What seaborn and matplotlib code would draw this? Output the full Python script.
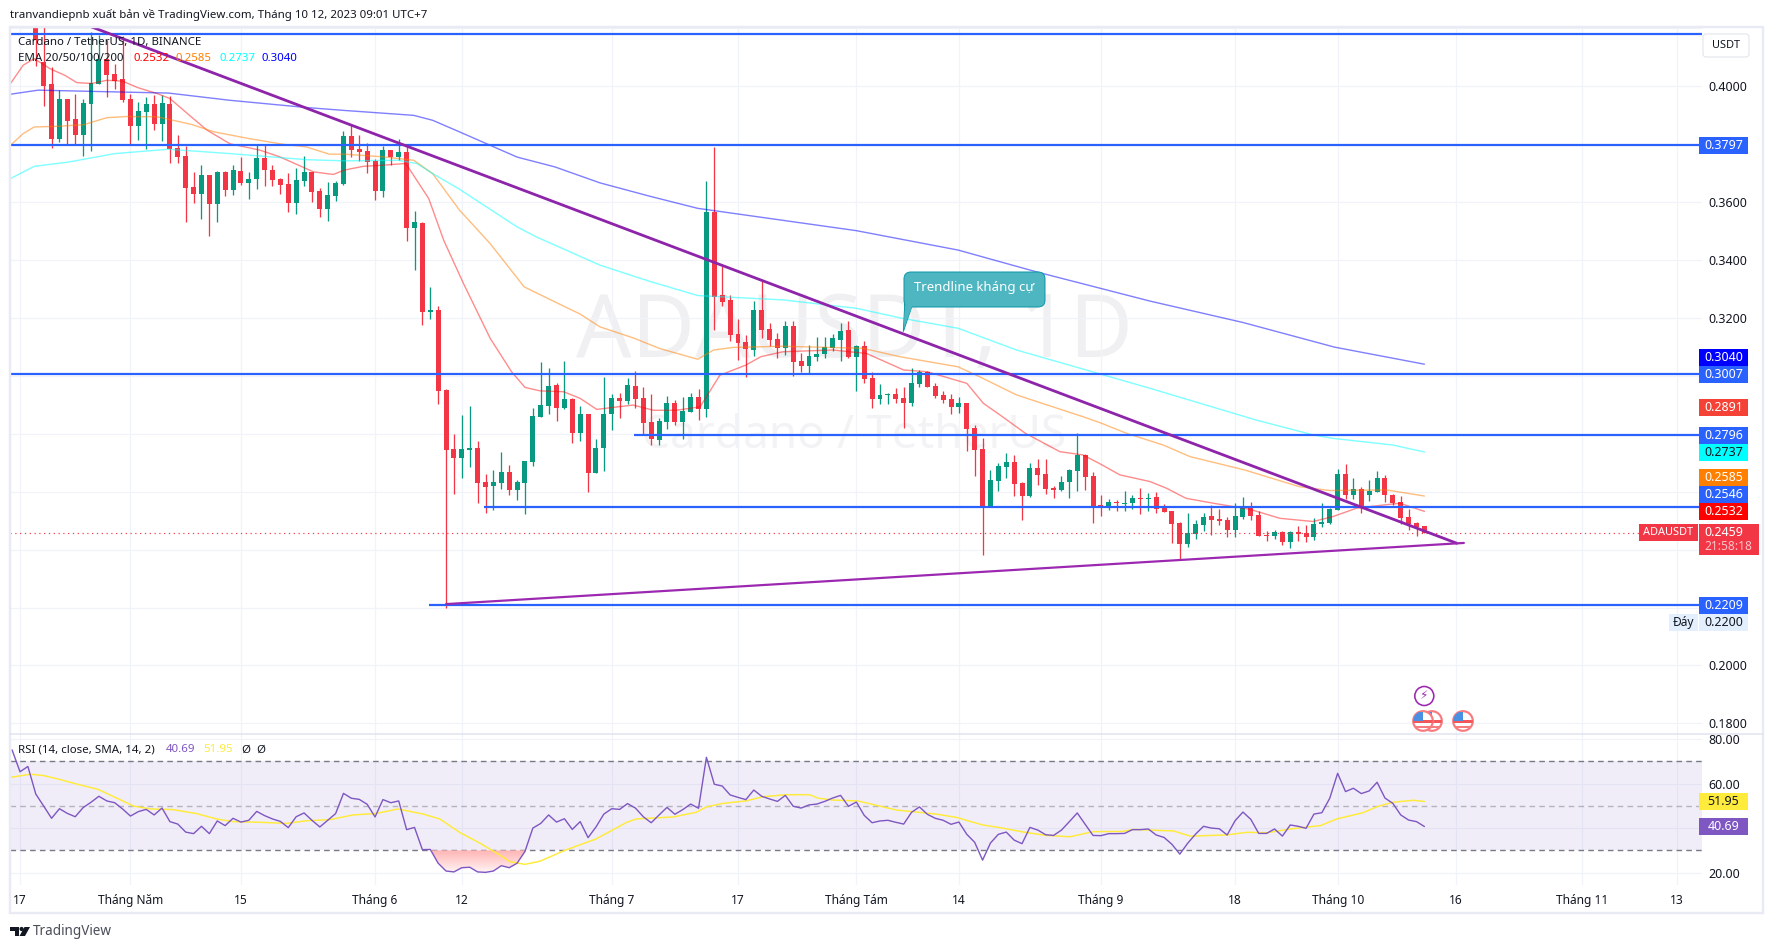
import matplotlib
matplotlib.use('Agg')
import matplotlib.pyplot as plt
from matplotlib.patches import Rectangle, Circle, Polygon, FancyBboxPatch
import numpy as np
import seaborn as sns

# days counted from 17 April, one candle per day
candle_days = np.arange(2, 179)

open_p = [
    .4400, .4083, .4006, .3816, .3954, .3885, .3830, .3937, .4006, .4095,
    .4041, .4023, .3954, .3861, .3910, .3937, .3868, .3937, .3785, .3758,
    .3651, .3627, .3692, .3592, .3703, .3640, .3706, .3665, .3678, .3751,
    .3710, .3678, .3661, .3596, .3672, .3703, .3637, .3575, .3620, .3661,
    .3827, .3782, .3775, .3741, .3637, .3779, .3754, .3772, .3509, .3527,
    .3220, .3227, .2951, .2747, .2716, .2743, .2750, .2633, .2619, .2630,
    .2668, .2606, .2630, .2702, .2857, .2895, .2968, .2888, .2919, .2802,
    .2868, .2664, .2750, .2868, .2923, .2913, .2964, .2923, .2840, .2778,
    .2840, .2906, .2840, .2875, .2926, .2887, .3565, .3279, .3262, .3145,
    .3117, .3089, .3227, .3162, .3127, .3096, .3172, .3051, .3034, .3065,
    .3075, .3096, .3124, .3158, .3065, .3103, .2993, .2920, .2934, .2937,
    .2924, .2906, .2972, .3013, .2965, .2934, .2920, .2892, .2906, .2820,
    .2747, .2551, .2637, .2685, .2702, .2630, .2585, .2682, .2661, .2613,
    .2606, .2634, .2672, .2727, .2654, .2554, .2547, .2564, .2557, .2561,
    .2578, .2575, .2582, .2544, .2534, .2492, .2420, .2454, .2485, .2516,
    .2506, .2502, .2468, .2513, .2547, .2520, .2451, .2447, .2461, .2426,
    .2461, .2458, .2444, .2489, .2492, .2537, .2661, .2589, .2609, .2589,
    .2599, .2647, .2589, .2564, .2513, .2492, .2482]
close_p = [
    .4160, .3999, .3816, .3954, .3879, .3830, .3941, .4010, .4095, .4037,
    .4017, .3951, .3861, .3913, .3937, .3868, .3941, .3782, .3754, .3647,
    .3627, .3692, .3592, .3703, .3640, .3710, .3665, .3678, .3751, .3710,
    .3675, .3658, .3596, .3675, .3703, .3634, .3575, .3623, .3665, .3827,
    .3779, .3772, .3737, .3637, .3779, .3754, .3772, .3509, .3530, .3220,
    .3227, .2948, .2743, .2716, .2747, .2750, .2630, .2616, .2633, .2668,
    .2606, .2633, .2706, .2861, .2899, .2964, .2888, .2919, .2802, .2868,
    .2664, .2750, .2868, .2923, .2913, .2968, .2919, .2837, .2781, .2844,
    .2906, .2840, .2878, .2926, .2885, .3565, .3272, .3255, .3141, .3114,
    .3093, .3227, .3158, .3124, .3096, .3172, .3048, .3034, .3068, .3075,
    .3099, .3130, .3155, .3065, .3103, .2989, .2920, .2934, .2937, .2920,
    .2906, .2975, .3013, .2961, .2930, .2917, .2892, .2906, .2816, .2744,
    .2551, .2640, .2689, .2702, .2626, .2585, .2682, .2658, .2609, .2606,
    .2634, .2675, .2727, .2651, .2551, .2547, .2564, .2561, .2561, .2578,
    .2575, .2578, .2540, .2530, .2489, .2420, .2458, .2489, .2513, .2502,
    .2499, .2468, .2516, .2547, .2516, .2447, .2447, .2461, .2426, .2461,
    .2454, .2444, .2489, .2496, .2540, .2661, .2589, .2609, .2547, .2602,
    .2647, .2589, .2561, .2509, .2489, .2478, .2459]
high_p = [
    .4500, .4500, .4066, .3986, .3954, .3972, .3954, .4187, .4175, .4158,
    .4075, .4172, .3974, .3944, .3961, .3968, .3968, .3965, .3830, .3792,
    .3703, .3727, .3692, .3706, .3706, .3727, .3754, .3703, .3799, .3799,
    .3727, .3682, .3699, .3716, .3758, .3703, .3647, .3668, .3672, .3844,
    .3865, .3830, .3803, .3747, .3792, .3779, .3816, .3796, .3568, .3530,
    .3306, .3240, .2954, .2799, .2864, .2895, .2775, .2661, .2674, .2737,
    .2692, .2640, .2706, .2888, .3047, .3026, .2975, .3051, .2923, .2895,
    .2868, .2781, .2995, .2937, .2940, .2992, .3016, .2961, .2937, .2854,
    .2930, .2916, .2926, .2940, .2954, .3672, .3789, .3379, .3279, .3196,
    .3141, .3258, .3331, .3182, .3148, .3189, .3189, .3079, .3106, .3134,
    .3134, .3144, .3182, .3189, .3106, .3120, .3013, .2972, .2941, .2958,
    .2961, .3027, .3020, .3017, .2975, .2948, .2937, .2927, .2906, .2830,
    .2785, .2675, .2699, .2734, .2727, .2633, .2699, .2713, .2713, .2620,
    .2654, .2678, .2803, .2730, .2668, .2589, .2575, .2571, .2602, .2589,
    .2613, .2595, .2599, .2558, .2534, .2496, .2527, .2502, .2527, .2554,
    .2540, .2513, .2561, .2582, .2564, .2534, .2464, .2468, .2464, .2464,
    .2482, .2485, .2509, .2561, .2544, .2678, .2696, .2647, .2616, .2640,
    .2671, .2658, .2592, .2585, .2540, .2496, .2482]
low_p = [
    .4069, .3930, .3787, .3807, .3796, .3796, .3759, .3776, .4006, .3961,
    .3989, .3944, .3799, .3813, .3784, .3848, .3810, .3734, .3734, .3530,
    .3596, .3540, .3482, .3530, .3620, .3623, .3658, .3609, .3644, .3654,
    .3654, .3627, .3565, .3558, .3654, .3599, .3547, .3534, .3603, .3658,
    .3754, .3741, .3699, .3606, .3616, .3727, .3744, .3465, .3364, .3175,
    .3195, .2902, .2200, .2592, .2647, .2685, .2561, .2526, .2536, .2609,
    .2588, .2571, .2523, .2688, .2857, .2868, .2844, .2885, .2768, .2775,
    .2599, .2664, .2671, .2812, .2854, .2902, .2888, .2795, .2761, .2761,
    .2816, .2830, .2781, .2875, .2847, .2859, .3158, .3241, .3120, .3055,
    .2996, .3068, .3130, .3103, .3061, .3072, .3000, .3013, .3006, .3051,
    .3061, .3086, .3051, .3061, .2948, .2975, .2889, .2903, .2903, .2906,
    .2820, .2896, .2961, .2961, .2923, .2906, .2868, .2872, .2740, .2654,
    .2382, .2551, .2602, .2647, .2585, .2502, .2582, .2623, .2592, .2578,
    .2602, .2578, .2602, .2606, .2492, .2516, .2537, .2533, .2533, .2540,
    .2523, .2533, .2526, .2530, .2423, .2368, .2409, .2437, .2464, .2451,
    .2485, .2444, .2444, .2506, .2502, .2447, .2430, .2437, .2416, .2406,
    .2430, .2427, .2433, .2478, .2489, .2537, .2575, .2575, .2527, .2568,
    .2599, .2565, .2554, .2489, .2468, .2447, .2458]

ema20_days = [-1.2, .4, 1.8, 3.8, 5.7, 7.2, 9.1, 11, 13, 14.9, 17.4, 19, 21.7, 23.7, 26.6, 30.4, 32.9, 34.8,
              37.2, 39.7, 41.1, 43.5, 46, 48.9, 51.8, 53.7, 56.2, 59.6, 62.3, 64, 65.9, 68.9, 71, 73.1, 75.2,
              77.7, 80.3, 83.2, 86.2, 88.7, 92, 93.9, 96.7, 103, 107.3, 112, 115, 120, 122.1, 124.2, 127.4,
              131.8, 134.7, 136.9, 139.4, 143.2, 145.3, 147.8, 151.7, 155.9, 159.7, 163.9, 166.4, 169.4,
              172.8, 174.9, 178]
ema20 = [.4009, .4072, .4095, .4060, .4037, .4012, .4009, .4020, .4017, .3995, .3974, .3957, .3894, .3848,
         .3801, .3779, .3756, .3733, .3704, .3695, .3710, .3723, .3727, .3733, .3612, .3468, .3319, .3129,
         .3014, .2960, .2948, .2945, .2922, .2884, .2891, .2899, .2881, .2881, .2893, .3002, .3037, .3066,
         .3083, .3089, .3077, .3020, .3014, .2974, .2905, .2865, .2802, .2738, .2727, .2696, .2658, .2635,
         .2612, .2577, .2558, .2539, .2508, .2497, .2514, .2543, .2554, .2560, .2532]
ema50_days = [-1.2, .4, 1.8, 4.7, 8.1, 11, 13.5, 17.4, 21.7, 24.6, 29, 33.4, 36.3, 39.2, 41.1, 46, 49.9, 52.3,
              55.7, 59.6, 63.9, 67.8, 71, 73.5, 77.7, 81.1, 85.9, 87.9, 90.4, 96.7, 106.8, 111.5, 118.9, 121.6,
              126.3, 134.7, 136.9, 140.3, 144.9, 148.3, 155.2, 162.2, 166, 173.2, 178]
ema50 = [.3796, .3836, .3859, .3861, .3867, .3891, .3895, .3894, .3868, .3842, .3819, .3799, .3790, .3765,
         .3765, .3756, .3744, .3698, .3572, .3456, .3307, .3255, .3213, .3169, .3131, .3094, .3057, .3089,
         .3098, .3102, .3095, .3066, .3031, .2997, .2934, .2859, .2838, .2801, .2761, .2721, .2675, .2617,
         .2604, .2606, .2585]
ema100_days = [-1.2, 1.8, 6.2, 12, 18.8, 26.6, 36.3, 41.1, 47.9, 50.3, 52.3, 55.7, 63, 65.4, 73.5, 79.8, 85.9,
               96.7, 106, 111.9, 118.9, 126.3, 143.2, 156.7, 163.9, 166.4, 174, 178]
ema100 = [.3681, .3723, .3738, .3767, .3782, .3767, .3746, .3742, .3744, .3733, .3698, .3644, .3514, .3480,
          .3382, .3326, .3277, .3262, .3233, .3198, .3164, .3089, .2957, .2847, .2796, .2784, .2761, .2737]
ema200_days = [-1.2, 2.3, 12, 18.8, 26.6, 36.3, 41.1, 49.9, 52.3, 55.7, 63, 67.8, 73.5, 79.8, 85.9, 106, 118.9,
               128.8, 143.2, 155, 166.6, 178]
ema200 = [.3972, .3986, .3980, .3976, .3951, .3926, .3916, .3899, .3882, .3842, .3755, .3721, .3666, .3620,
          .3578, .3501, .3434, .3359, .3258, .3184, .3099, .3040]

rsi_days = np.arange(-1, 179)
rsi = [75.1, 65.3, 67.7, 55.3, 49.9, 44.4, 48.7, 46.6, 45.1, 49.2, 51.6, 54.3, 52.2, 51.4, 48.6, 45.4, 47.4, 48.4,
       45.9, 49.0, 42.9, 41.8, 38.2, 37.5, 40.8, 37.5, 43.2, 41.1, 44.4, 42.7, 43.5, 47.5, 45.6, 44.1, 43.0, 40.2,
       45.1, 46.8, 43.5, 40.5, 43.5, 46.5, 55.6, 53.4, 52.9, 50.7, 45.0, 52.8, 51.4, 52.2, 39.3, 40.3, 30.3, 30.4,
       24.2, 20.7, 20.3, 22.2, 22.4, 20.3, 20.1, 20.7, 23.1, 22.2, 24.2, 29.5, 40.0, 42.1, 45.9, 42.7, 44.2, 39.4,
       42.9, 35.7, 40.5, 46.3, 48.7, 48.4, 51.0, 49.0, 45.1, 42.4, 45.9, 49.3, 46.2, 48.3, 50.8, 48.9, 71.8, 59.7,
       58.9, 54.9, 53.8, 52.8, 57.1, 54.3, 53.1, 52.0, 54.7, 49.8, 49.0, 50.4, 50.8, 52.0, 53.5, 54.7, 49.8, 51.7,
       45.7, 42.4, 43.2, 43.5, 42.6, 41.8, 47.1, 49.5, 46.2, 44.4, 43.5, 41.7, 42.7, 37.2, 33.6, 25.6, 33.3, 37.2,
       38.2, 34.6, 33.0, 40.3, 39.1, 37.0, 36.7, 39.1, 42.9, 46.8, 41.7, 36.7, 36.6, 37.5, 37.5, 37.6, 39.3, 39.3,
       39.6, 36.9, 35.8, 32.7, 28.3, 33.2, 37.3, 40.8, 40.0, 39.7, 36.9, 43.3, 47.2, 43.9, 37.6, 37.6, 39.6, 36.4,
       41.4, 40.8, 39.9, 46.3, 46.9, 53.4, 64.6, 56.4, 57.9, 55.5, 56.7, 60.6, 53.5, 51.1, 45.9, 43.6, 42.9, 40.69]
rsi_ma_days = [-1.2, 1.3, 3, 5, 7.6, 9.9, 12.3, 14.4, 16.5, 19.4, 22.4, 24.9, 27, 30.4, 33.8, 36.3, 39.3, 42.2,
               45.2, 47.9, 51.1, 53.2, 55.8, 58.3, 60.8, 62.1, 64, 65.9, 69.2, 73, 76.9, 78.1, 82.8, 85.7, 87,
               89.1, 92, 94.2, 97.1, 100.1, 101.1, 103, 106.2, 111.1, 116.1, 118.7, 122, 124.2, 127.2, 130.1,
               133.1, 136, 139.8, 141.1, 146.2, 148.3, 152.9, 155.5, 158, 161, 164.8, 166.9, 170.2, 172, 174,
               176.6, 178]
rsi_ma = [62.8, 64.2, 63.6, 61.9, 59.4, 57.4, 53.4, 49.9, 48.6, 48.3, 46.5, 44.1, 42.9, 42.6, 42.1, 43.3, 43.8,
          45.9, 46.6, 48.6, 46.3, 44.1, 37.9, 33.2, 27.9, 24.9, 23.7, 25.1, 30.2, 35.1, 42.6, 44.1, 45.0, 47.1,
          49.5, 51.1, 52.2, 54.1, 55.0, 55.0, 53.5, 52.6, 52.2, 48.1, 46.3, 44.8, 41.4, 40.2, 38.2, 36.7, 36.1,
          38.4, 38.5, 39.4, 38.7, 36.4, 36.9, 38.1, 37.9, 39.6, 41.1, 44.1, 46.9, 49.6, 51.6, 52.5, 51.95]

level_prices = [.4181, .3797, .3007, .2796, .2546, .2209]
level_starts = [-1.3, -1.3, -1.3, 77.8, 58.8, 51.9]
last_price = .2459
resistance_days = [9.1, 182.1]
resistance_prices = [.4204, .2422]
support_days = [54, 183]
support_prices = [.2212, .2423]

x_tick_days = [0, 14, 28, 45, 56, 75, 91, 106, 119, 137, 154, 167, 182, 198, 210]
x_tick_labels = ['17', 'Tháng Năm', '15', 'Tháng 6', '12', 'Tháng 7', '17', 'Tháng Tám', '14', 'Tháng 9', '18',
                 'Tháng 10', '16', 'Tháng 11', '13']
price_ticks = [.18, .20, .22, .24, .26, .28, .30, .32, .34, .36, .38, .40, .42]
price_tick_labels = ['0.1800', '0.2000', '', '', '', '', '', '0.3200', '0.3400', '0.3600', '', '0.4000', '']
rsi_ticks = [20, 40, 60, 80]
rsi_tick_labels = ['20.00', '', '60.00', '80.00']

UP = '#089981'
DOWN = '#f23645'
BLUE = '#2962ff'
PURPLE = '#8e24aa'
GRID = '#f0f3fa'
TEXT = '#131722'


def px(n):
    return n * 72 / 100


sns.set_style('white')
plt.rcParams['font.family'] = ['Noto Sans', 'DejaVu Sans']

W, H = 1773, 949
fig = plt.figure(figsize=(W / 100, H / 100), dpi=100, facecolor='white')
ax = fig.add_axes([10 / W, 1 - 733 / H, 1692 / W, 706 / H])
ax_rsi = fig.add_axes([10 / W, 1 - 885 / H, 1692 / W, 152 / H], sharex=ax)

ov = fig.add_axes([0, 0, 1, 1], zorder=10)
ov.set_xlim(0, W)
ov.set_ylim(H, 0)
ov.axis('off')
ov.patch.set_alpha(0)

# candles
up = np.array(close_p) >= np.array(open_p)
colors = np.where(up, UP, DOWN)
ax.vlines(candle_days, low_p, high_p, colors=colors, lw=px(1.3), zorder=3)
ax.bar(candle_days, np.abs(np.array(close_p) - np.array(open_p)), bottom=np.minimum(open_p, close_p),
       width=0.63, color=colors, linewidth=0, zorder=3)

# moving averages
sns.lineplot(x=ema20_days, y=ema20, ax=ax, color='#ff0000', lw=px(1.4), alpha=.45, zorder=4, estimator=None, sort=False)
sns.lineplot(x=ema50_days, y=ema50, ax=ax, color='#ff7f00', lw=px(1.4), alpha=.5, zorder=4, estimator=None, sort=False)
sns.lineplot(x=ema100_days, y=ema100, ax=ax, color='#00ffff', lw=px(1.4), alpha=.5, zorder=4, estimator=None, sort=False)
sns.lineplot(x=ema200_days, y=ema200, ax=ax, color='#0000ff', lw=px(1.4), alpha=.5, zorder=4, estimator=None, sort=False)

# drawn levels and trend lines
for price, start in zip(level_prices, level_starts):
    ax.hlines(price, start, 214, color=BLUE, lw=px(2.2), zorder=5)
ax.hlines(last_price, -1.3, 214, color=DOWN, lw=px(1.2), linestyles=(0, (1, 3)), zorder=5)
sns.lineplot(x=resistance_days, y=resistance_prices, ax=ax, color=PURPLE, lw=px(2.8), zorder=6, estimator=None, sort=False)
sns.lineplot(x=support_days, y=support_prices, ax=ax, color='#9c27b0', lw=px(2.2), zorder=6, estimator=None, sort=False)

ax.set_xlim((10 - 20) / 7.89, (1702 - 20) / 7.89)
ax.set_ylim(.1767, .4204)
ax.set_yticks(price_ticks, price_tick_labels)
ax.yaxis.tick_right()
ax.set_xticks(x_tick_days)
ax.grid(True, color=GRID, lw=px(1.2), zorder=0)
ax.set_axisbelow(True)
ax.tick_params(axis='y', length=0, pad=px(6), labelsize=px(12.5), labelcolor=TEXT)
ax.tick_params(axis='x', length=0, labelbottom=False)
for s in ax.spines.values():
    s.set_visible(False)
ax.patch.set_alpha(0)

# rsi pane
ax_rsi.axhspan(30, 70, color='#7e57c2', alpha=.1, lw=0, zorder=1)
for level, a in zip([70, 50, 30], [1, .5, 1]):
    ax_rsi.axhline(level, color='#787b86', lw=px(1.4), ls=(0, (4, 3)), alpha=a, zorder=2)
rsi_arr = np.array(rsi, dtype=float)
region = ax_rsi.fill_between(rsi_days, rsi_arr, 30, where=rsi_arr < 30, interpolate=True, color='none')
grad = ax_rsi.imshow(np.linspace(0, 1, 64).reshape(-1, 1), extent=[52, 65, 30, 20], aspect='auto', zorder=2,
                     cmap=matplotlib.colors.LinearSegmentedColormap.from_list('os', ['#fff6f6', '#ffb4b4']))
grad.set_clip_path(region.get_paths()[0], transform=ax_rsi.transData)
sns.lineplot(x=rsi_ma_days, y=rsi_ma, ax=ax_rsi, color='#ffeb3b', lw=px(1.5), zorder=3, estimator=None, sort=False)
sns.lineplot(x=rsi_days, y=rsi, ax=ax_rsi, color='#7e57c2', lw=px(1.4), zorder=4, estimator=None, sort=False)
ax_rsi.set_ylim(14.42, 82.73)
ax_rsi.set_xlim((10 - 20) / 7.89, (1702 - 20) / 7.89)
ax_rsi.set_yticks(rsi_ticks, rsi_tick_labels)
ax_rsi.yaxis.tick_right()
ax_rsi.set_xticks(x_tick_days, x_tick_labels)
ax_rsi.grid(True, color=GRID, lw=px(1.2), zorder=0)
ax_rsi.set_axisbelow(True)
ax_rsi.tick_params(axis='y', length=0, pad=px(6), labelsize=px(12.5), labelcolor=TEXT)
ax_rsi.tick_params(axis='x', length=0, pad=px(9), labelsize=px(12), labelcolor=TEXT)
for s in ax_rsi.spines.values():
    s.set_visible(False)
ax_rsi.patch.set_alpha(0)

# big grey watermark behind everything
bg = fig.add_axes([0, 0, 1, 1], zorder=-1)
bg.set_xlim(0, W)
bg.set_ylim(H, 0)
bg.axis('off')
bg.text(854, 334, 'ADAUSDT, 1D', color='#f0f0f2', fontsize=px(87), ha='center', va='center')
bg.text(854, 436, 'Cardano / TetherUS', color='#f3f3f5', fontsize=px(46), ha='center', va='center')

# frame around the panes
ov.add_patch(Rectangle((9.5, 26.5), 1753, 886, fill=False, ec='#e8eaf4', lw=px(2.4)))
ov.plot([10, 1763], [734, 734], color='#e0e3f0', lw=px(1.5))


def tag(x0, x1, y0, y1, bg_color, label, fg='white', size=12.5):
    ov.add_patch(Rectangle((x0, y0), x1 - x0, y1 - y0, fc=bg_color, ec='none'))
    ov.text((x0 + x1) / 2, (y0 + y1) / 2, label, color=fg, fontsize=px(size), ha='center', va='center',
            fontweight='medium')


# right side price tags
tag(1699, 1748, 136.5, 153.5, BLUE, '0.3797')
tag(1699, 1748, 349, 365.7, '#0000ff', '0.3040')
tag(1699, 1748, 366, 382.7, BLUE, '0.3007')
tag(1699, 1748, 399, 415.7, '#f44336', '0.2891')
tag(1699, 1748, 427, 443.7, BLUE, '0.2796')
tag(1699, 1748, 444, 460.7, '#00ffff', '0.2737', fg=TEXT)
tag(1699, 1748, 469, 485.7, '#ff7f00', '0.2585')
tag(1699, 1748, 486, 502.7, BLUE, '0.2546')
tag(1699, 1748, 503, 519.7, '#ff0000', '0.2532')
tag(1639, 1697.7, 524, 541, DOWN, 'ADAUSDT', size=11)
ov.add_patch(Rectangle((1699, 524), 59.7, 31, fc=DOWN, ec='none'))
ov.text(1704, 532.5, '0.2459', color='white', fontsize=px(12.5), va='center', fontweight='medium')
ov.text(1704, 547, '21:58:18', color='#fbc4c9', fontsize=px(12), va='center', fontweight='medium')
tag(1699, 1748, 597, 613.7, BLUE, '0.2209')
tag(1669, 1697.7, 614, 630.7, '#e3effd', 'Đáy', fg=TEXT, size=12)
tag(1699, 1748, 614, 630.7, '#e3effd', '0.2200', fg=TEXT)
tag(1699, 1748, 793, 810, '#ffeb3b', '51.95', fg=TEXT)
tag(1699, 1748, 818, 835, '#7e57c2', '40.69')

ov.add_patch(FancyBboxPatch((1705, 36), 42, 19, boxstyle='round,pad=2,rounding_size=3', fc='white', ec='#e0e3eb', lw=px(1)))
ov.text(1726, 45.5, 'USDT', color=TEXT, fontsize=px(11), ha='center', va='center')

# callout on the trend line
ov.add_patch(Polygon([(905, 300), (903.3, 331.7), (912, 306), (905, 306)], fc='#4eb6c1', ec='#0f98a8', lw=px(1)))
ov.add_patch(FancyBboxPatch((909, 277), 131, 25, boxstyle='round,pad=5,rounding_size=7', fc='#4eb6c1', ec='#0f98a8', lw=px(1)))
ov.add_patch(Polygon([(906, 296), (903.6, 329), (912.5, 305)], fc='#4eb6c1', ec='none'))
ov.text(974, 288, 'Trendline kháng cự', color='white', fontsize=px(13.2), ha='center', va='center', fontweight='medium')

# header and pane legends
ov.text(10, 15, 'tranvandiepnb xuất bản về TradingView.com, Tháng 10 12, 2023 09:01 UTC+7', color=TEXT,
        fontsize=px(11.5), va='center')
ov.text(18, 42, 'Cardano / TetherUS, 1D, BINANCE', color=TEXT, fontsize=px(11.5), va='center')
ov.text(18, 58.5, 'EMA 20/50/100/200', color=TEXT, fontsize=px(11.5), va='center')
for x, label, c in zip([133, 176, 219, 262], ['0.2532', '0.2585', '0.2737', '0.3040'],
                       ['#ff0000', '#ff7f00', '#00ffff', '#0000ff']):
    ov.text(x, 58.5, label, color=c, fontsize=px(11.5), va='center')
ov.text(18, 750, 'RSI (14, close, SMA, 14, 2)', color=TEXT, fontsize=px(11.5), va='center')
ov.text(166, 750, '40.69', color='#7e57c2', fontsize=px(11.5), va='center')
ov.text(203, 750, '51.95', color='#ffeb3b', fontsize=px(11.5), va='center')
ov.text(241, 750, 'Ø', color=TEXT, fontsize=px(11.5), va='center')
ov.text(256, 750, 'Ø', color=TEXT, fontsize=px(11.5), va='center')

# event markers
ov.add_patch(Circle((1424.3, 696), 9.5, fc='white', ec='#9c27b0', lw=px(1.6)))
ov.text(1424.3, 696, '⚡', color='#9c27b0', fontsize=px(12), ha='center', va='center', family='DejaVu Sans')
for cx in [1432, 1423, 1463]:
    c = Circle((cx, 721), 9.8, fc='white', ec='#f77c80', lw=px(2.2))
    ov.add_patch(c)
    for y0, col in [(720, '#f2575c'), (725.5, '#f77c80')]:
        r = Rectangle((cx - 10, y0), 20, 2.6, fc=col, ec='none')
        ov.add_patch(r)
        r.set_clip_path(c)
    blue = Rectangle((cx - 10, 712), 10, 9, fc='#4a90e2', ec='none')
    ov.add_patch(blue)
    blue.set_clip_path(c)

# logo
ov.add_patch(Polygon([(10, 927), (19, 927), (19, 936), (14.5, 936), (14.5, 931), (10, 931)], fc=TEXT, ec='none'))
ov.add_patch(Circle((21.6, 929), 2.1, fc=TEXT, ec='none'))
ov.add_patch(Polygon([(24.5, 927), (30, 927), (25, 936), (19.5, 936)], fc=TEXT, ec='none'))
ov.text(33, 931.5, 'TradingView', color='#4a4e59', fontsize=px(13.5), va='center')

fig.savefig('out.png', dpi=100, facecolor='white')
